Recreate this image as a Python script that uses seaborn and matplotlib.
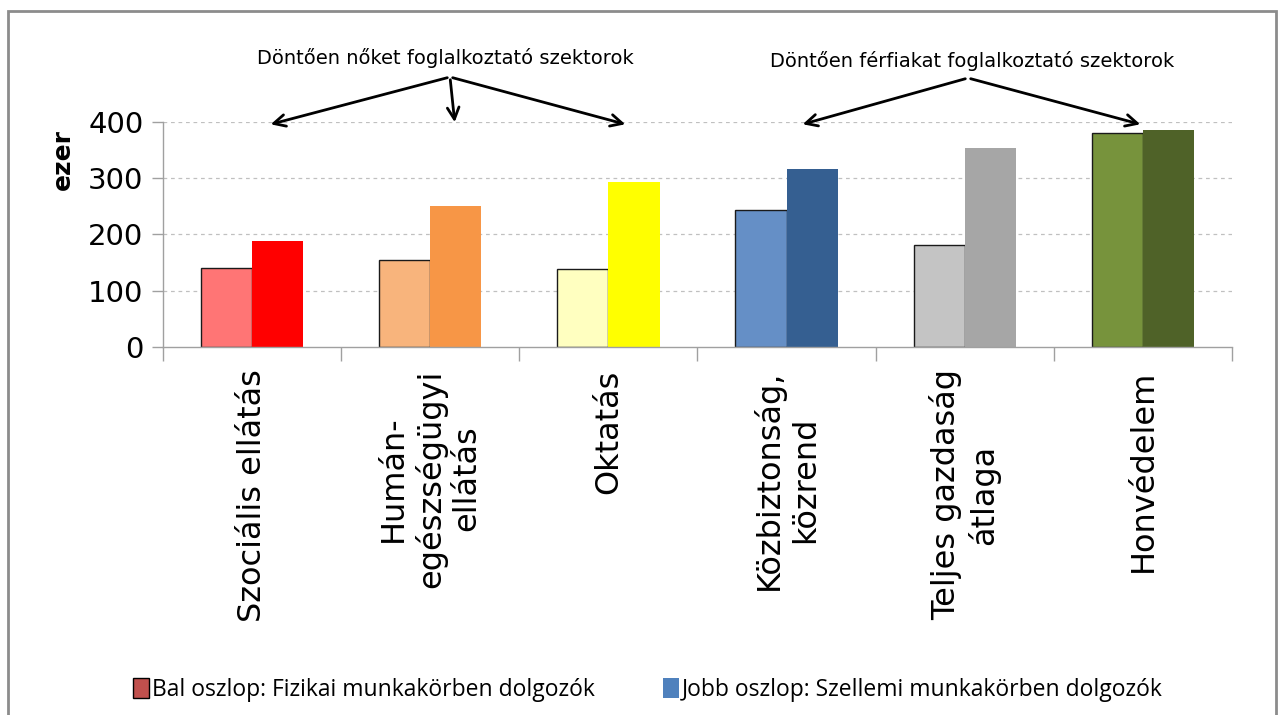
import pandas as pd
import seaborn as sns
import matplotlib.pyplot as plt
from matplotlib.patches import Patch, Rectangle

# Data (thousand HUF, "ezer")
categories = ["Szociális ellátás", "Humán-\negészségügyi\nellátás", "Oktatás",
              "Közbiztonság,\nközrend", "Teljes gazdaság\nátlaga", "Honvédelem"]
fizikai = [140, 155, 138, 244, 181, 381]
szellemi = [188, 250, 293, 316, 353, 385]
series = ["Bal oszlop: Fizikai munkakörben dolgozók", "Jobb oszlop: Szellemi munkakörben dolgozók"]

left_colors = ["#FF7575", "#F8B47C", "#FFFFC0", "#658FC6", "#C4C4C4", "#77933C"]
right_colors = ["#FF0000", "#F79646", "#FFFF00", "#355F91", "#A6A6A6", "#4F6228"]
legend_colors = ["#C0504D", "#4F81BD"]

df = pd.DataFrame({
    "kat": categories * 2,
    "ertek": fizikai + szellemi,
    "oszlop": [series[0]] * len(categories) + [series[1]] * len(categories),
})

sns.set_theme(style="white")
plt.rcParams["font.family"] = ["DejaVu Sans"]
plt.rcParams["text.color"] = "black"
plt.rcParams["axes.labelcolor"] = "black"

fig = plt.figure(figsize=(12.78, 7.15), dpi=100)
ax = fig.add_axes([0.1275, 0.5147, 0.8365, 0.3147])

sns.barplot(data=df, x="kat", y="ertek", hue="oszlop", order=categories,
            hue_order=series, width=0.574, legend=False, ax=ax)

for bar, c in zip(ax.containers[0], left_colors):
    bar.set_facecolor(c)
    bar.set_edgecolor("#1a1a1a")
    bar.set_linewidth(1.0)
for bar, c in zip(ax.containers[1], right_colors):
    bar.set_facecolor(c)
    bar.set_edgecolor("none")

ax.set_xlim(-0.5, len(categories) - 0.5)
ax.set_ylim(0, 400)
ax.set_yticks([0, 100, 200, 300, 400])
ax.tick_params(axis="y", labelsize=21, length=8, width=1, color="#A0A0A0",
               labelcolor="black", left=True, pad=6)
ax.set_ylabel("ezer", fontsize=18, fontweight="bold", color="black")
ax.yaxis.set_label_coords(-0.082, 0.835)
ax.set_xlabel("")

# category labels at centers, boundary ticks as minor ticks
ax.set_xticks(range(len(categories)))
ax.set_xticklabels(categories, rotation=90, fontsize=23, va="top", ha="center")
for lab in ax.get_xticklabels():
    lab.set_multialignment("center")
ax.tick_params(axis="x", which="major", length=0, pad=16, labelcolor="black")
ax.set_xticks([i - 0.5 for i in range(len(categories) + 1)], minor=True)
ax.tick_params(axis="x", which="minor", length=10, width=1, color="#A0A0A0",
               bottom=True)

for y in [100, 200, 300, 400]:
    ax.axhline(y, color="#C0C0C0", lw=0.9, ls=(0, (3, 3)), zorder=0)

sns.despine(ax=ax, top=True, right=True)
for s in ["left", "bottom"]:
    ax.spines[s].set_color("#A0A0A0")
    ax.spines[s].set_linewidth(1.0)

# annotations with arrows
arrow_kw = dict(arrowstyle="->,head_length=0.7,head_width=0.35", color="black", lw=2)
ax.annotate("Döntően nőket foglalkoztató szektorok", xy=(445 / 1278, 1 - 58 / 715),
            xycoords="figure fraction", ha="center", va="center", fontsize=14,
            color="black")
for tx in [268, 455, 628]:
    ax.annotate("", xy=(tx / 1278, 1 - 125 / 715), xytext=(450 / 1278, 1 - 77 / 715),
                xycoords="figure fraction", textcoords="figure fraction",
                arrowprops=arrow_kw)
ax.annotate("Döntően férfiakat foglalkoztató szektorok", xy=(972 / 1278, 1 - 61 / 715),
            xycoords="figure fraction", ha="center", va="center", fontsize=14,
            color="black")
for tx in [800, 1143]:
    ax.annotate("", xy=(tx / 1278, 1 - 125 / 715), xytext=(968 / 1278, 1 - 78 / 715),
                xycoords="figure fraction", textcoords="figure fraction",
                arrowprops=arrow_kw)

# legend
handles = [Patch(facecolor=legend_colors[0], edgecolor="black", lw=1),
           Patch(facecolor=legend_colors[1], edgecolor="none")]
leg = fig.legend(handles, series, loc="center", bbox_to_anchor=(0.507, 1 - 690 / 715),
                 ncol=2, frameon=False, handlelength=0.7, handleheight=0.95,
                 handletextpad=0.12, columnspacing=3.0,
                 prop={"family": "Open Sans", "size": 16.5})
for t in leg.get_texts():
    t.set_color("black")

# outer frame
fig.patches.append(Rectangle((8 / 1278, -0.02), 1268 / 1278, 0.02 + 1 - 11 / 715,
                             transform=fig.transFigure, fill=False,
                             edgecolor="#8C8C8C", lw=2))

fig.savefig("out.png", dpi=100)
